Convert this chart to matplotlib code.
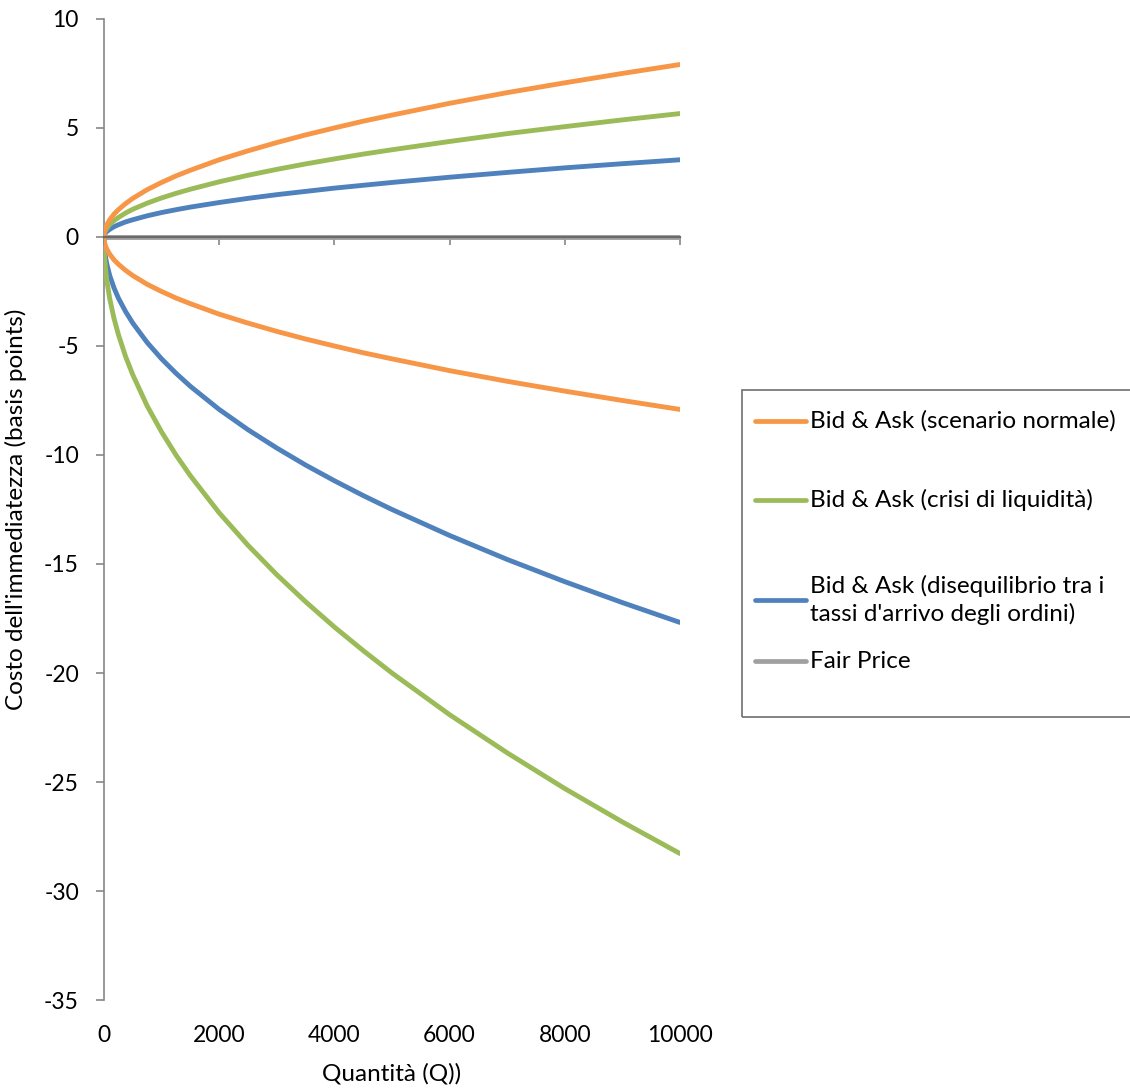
import matplotlib
matplotlib.use("Agg")
import matplotlib.pyplot as plt
from matplotlib.lines import Line2D
from matplotlib.patches import Rectangle

plt.rcParams['font.family'] = ['Lato', 'DejaVu Sans']
plt.rcParams['axes.unicode_minus'] = False

# quantities (Q) and costs in basis points
quantita = [0, 5, 10, 25, 50, 100, 175, 250, 375, 500, 750, 1000, 1250, 1500,
            2000, 2500, 3000, 3500, 4000, 4500, 5000, 6000, 7000, 8000, 9000, 10000]

normale_ask = [0, 0.18, 0.25, 0.40, 0.56, 0.79, 1.05, 1.25, 1.53, 1.77, 2.17,
               2.50, 2.80, 3.06, 3.54, 3.95, 4.33, 4.68, 5.00, 5.31, 5.59,
               6.13, 6.62, 7.07, 7.50, 7.91]
normale_bid = [0, -0.18, -0.25, -0.40, -0.56, -0.79, -1.05, -1.25, -1.53, -1.77,
               -2.17, -2.50, -2.80, -3.06, -3.54, -3.95, -4.33, -4.68, -5.00,
               -5.31, -5.59, -6.13, -6.62, -7.07, -7.50, -7.91]
crisi_ask = [0, 0.13, 0.18, 0.28, 0.40, 0.57, 0.75, 0.89, 1.10, 1.27, 1.55,
             1.79, 2.00, 2.19, 2.53, 2.83, 3.10, 3.35, 3.58, 3.80, 4.00,
             4.38, 4.74, 5.06, 5.37, 5.66]
crisi_bid = [0, -0.63, -0.89, -1.41, -2.00, -2.83, -3.74, -4.47, -5.48, -6.32,
             -7.75, -8.94, -10.00, -10.95, -12.65, -14.14, -15.49, -16.73,
             -17.89, -18.97, -20.00, -21.91, -23.66, -25.30, -26.83, -28.28]
diseq_ask = [0, 0.08, 0.11, 0.18, 0.25, 0.35, 0.47, 0.56, 0.69, 0.79, 0.97,
             1.12, 1.25, 1.37, 1.58, 1.77, 1.94, 2.09, 2.24, 2.37, 2.50,
             2.74, 2.96, 3.17, 3.36, 3.54]
diseq_bid = [0, -0.40, -0.56, -0.88, -1.25, -1.77, -2.34, -2.80, -3.42, -3.95,
             -4.84, -5.59, -6.25, -6.85, -7.91, -8.84, -9.68, -10.46, -11.18,
             -11.86, -12.50, -13.69, -14.79, -15.81, -16.77, -17.68]
fair_price = [0] * len(quantita)

etichette = ["Bid & Ask (scenario normale)",
             "Bid & Ask (crisi di liquidità)",
             "Bid & Ask (disequilibrio tra i\ntassi d'arrivo degli ordini)",
             "Fair Price"]
colori = ['#F79646', '#9BBB59', '#4F81BD', '#A0A0A0']

fig = plt.figure(figsize=(11.3, 10.89), dpi=100)
ax = fig.add_axes([0.092, 0.0817, 0.5097, 0.9009])

lw = 3.5
ax.plot(quantita, fair_price, color=colori[3], lw=lw, solid_capstyle='round', zorder=2)
ax.plot(quantita, diseq_ask, color=colori[2], lw=lw, solid_capstyle='round', zorder=3)
ax.plot(quantita, diseq_bid, color=colori[2], lw=lw, solid_capstyle='round', zorder=3)
ax.plot(quantita, crisi_ask, color=colori[1], lw=lw, solid_capstyle='round', zorder=3)
ax.plot(quantita, crisi_bid, color=colori[1], lw=lw, solid_capstyle='round', zorder=3)
ax.plot(quantita, normale_ask, color=colori[0], lw=lw, solid_capstyle='round', zorder=3)
ax.plot(quantita, normale_bid, color=colori[0], lw=lw, solid_capstyle='round', zorder=3)

ax.set_xlim(0, 10000)
ax.set_ylim(-35, 10)
ax.set_yticks(range(-35, 11, 5))
ax.set_xticks(range(0, 10001, 2000))

axis_col = '#868686'
for s in ['top', 'right']:
    ax.spines[s].set_visible(False)
ax.spines['left'].set_color(axis_col)
ax.spines['left'].set_linewidth(1.2)
ax.spines['bottom'].set_position(('data', 0))
ax.spines['bottom'].set_color('#6a6a6a')
ax.spines['bottom'].set_linewidth(1.6)
ax.spines['bottom'].set_zorder(4)
ax.tick_params(axis='y', direction='out', length=6, width=1.2, color=axis_col,
               labelsize=16.5, pad=12)
ax.tick_params(axis='x', direction='out', length=6, width=1.2, color=axis_col,
               labelbottom=False)

# tick labels sit under the plot area, not on the zero line
sec = ax.secondary_xaxis('bottom')
sec.spines['bottom'].set_visible(False)
sec.set_xticks(range(0, 10001, 2000))
sec.tick_params(length=0, labelsize=16.5, pad=18)
sec.set_xlabel("Quantità (Q))", fontsize=17.5, labelpad=12)

ax.set_ylabel("Costo dell'immediatezza (basis points)", fontsize=17.5, labelpad=12)

# legend box, drawn by hand to keep Excel's uneven spacing
W, H = 1130.0, 1089.0
fig.add_artist(Rectangle((742 / W, 1 - 717 / H), 400 / W, 327 / H,
                         transform=fig.transFigure, fill=False,
                         edgecolor='#6e6e6e', lw=1.2))
righe = [421, 500, 600, 661]
for col, lab, y in zip(colori, etichette, righe):
    yy = 1 - y / H
    fig.add_artist(Line2D([755 / W, 806 / W], [yy, yy], transform=fig.transFigure,
                          color=col, lw=3.4, solid_capstyle='round'))
    fig.text(810 / W, yy, lab, fontsize=17.5, va='center', ha='left',
             linespacing=1.3)

fig.savefig('out.png', dpi=100)
